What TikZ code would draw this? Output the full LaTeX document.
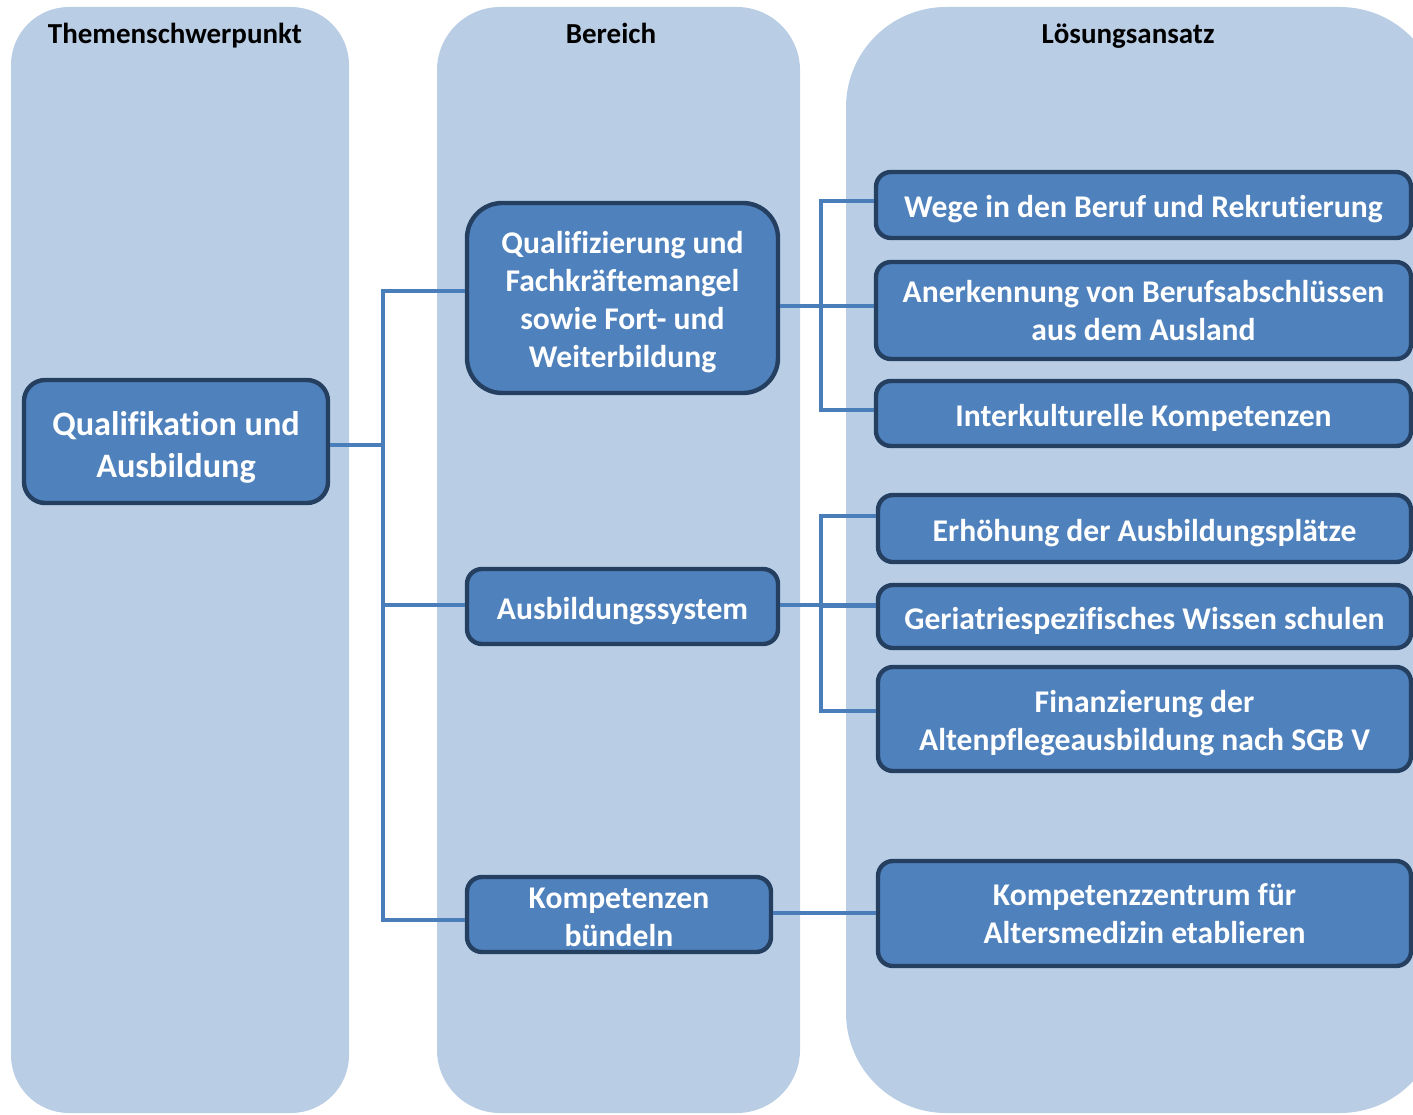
\documentclass[tikz,border=0pt]{standalone}
\usepackage{fontspec}
\setmainfont{Carlito}[Ligatures={NoCommon}]
\usetikzlibrary{calc}
\definecolor{lane}{HTML}{B9CDE5}
\definecolor{boxfill}{HTML}{4F81BD}
\definecolor{boxline}{HTML}{243F60}
\definecolor{wirec}{HTML}{4A7EBB}
% invisible strut that sets the height of a first text line
\newcommand\firstline[1]{\rule{0pt}{#1}}

\begin{document}
\begin{tikzpicture}[x=0.02cm,y=-0.02cm,
  card/.style 2 args={draw=boxline, fill=boxfill, line width=2.5pt, rounded corners=8.5pt,
    inner sep=0pt, text=white, align=center,
    minimum width={#1*0.02cm}, minimum height={#2*0.02cm},
    font=\bfseries\fontsize{18}{21.6}\selectfont,
    execute at begin node={\rule{0pt}{17.6pt}}},
  bigfont/.style={font=\bfseries\fontsize{19.5}{23.8}\selectfont},
  head/.style={font=\bfseries\fontsize{16.5}{19}\selectfont, text=black, inner sep=0pt, anchor=base},
  wire/.style={draw=wirec, line width=2.3pt}]

\useasboundingbox (0,0) rectangle (1413,1115);

% column backgrounds
\begin{scope}
  \clip (0,0) rectangle (1413,1115);
  \fill[lane, rounded corners=33pt] (11,7) rectangle (349,1113);
  \fill[lane, rounded corners=36pt] (437,7) rectangle (800,1113);
  \fill[lane, rounded corners=57pt] (846,7) rectangle (1440,1113);
\end{scope}

% column headings
\node[head] (h1) at (175,44) {Themenschwerpunkt};
\node[head] (h2) at (611,44) {Bereich};
\node[head] (h3) at (1128,44) {Lösungsansatz};

% topic
\node[card={304}{123}, bigfont, rounded corners=12pt] (qa) at (176,441.5)
  {\firstline{20.5pt}Qualifikation und\\Ausbildung};

% areas
\node[card={311}{190}, rounded corners=20pt] (q) at (622.5,298)
  {\firstline{17.5pt}Qualifizierung und\\Fachkräftemangel\\sowie Fort- und\\Weiterbildung};
\node[card={311}{75}] (a) at (622.5,606.5) {Ausbildungssystem};
\node[card={304}{75}] (k) at (619,914.5) {\firstline{14.5pt}Kompetenzen\\bündeln};

% approaches
\node[card={535}{66}]  (r1) at (1143.5,205)   {Wege in den Beruf und Rekrutierung};
\node[card={535}{97}]  (r2) at (1143.5,310.5) {Anerkennung von Berufsabschlüssen\\aus dem Ausland};
\node[card={535}{65}]  (r3) at (1143.5,413.5) {Interkulturelle Kompetenzen};
\node[card={533}{67}]  (r4) at (1144.5,528.5) {Erhöhung der Ausbildungsplätze};
\node[card={533}{63}]  (r5) at (1144.5,616.5) {Geriatriespezifisches Wissen schulen};
\node[card={533}{104}] (r6) at (1144.5,719)
  {\firstline{17.5pt}Finanzierung der\\Altenpflegeausbildung nach SGB V};
\node[card={533}{105}] (r7) at (1144.5,913.5) {Kompetenzzentrum für\\Altersmedizin etablieren};

% trunk positions
\coordinate (t1) at (383,0);
\coordinate (t2) at (821,0);

% connection points on the box sides
\coordinate (qa-o) at ($(qa.east)+(0,3.5)$);
\coordinate (q-i)  at ($(q.west)+(0,-7)$);
\coordinate (a-i)  at ($(a.west)+(0,-1.5)$);
\coordinate (k-i)  at ($(k.west)+(0,5.5)$);
\coordinate (q-o)  at ($(q.east)+(0,8)$);
\coordinate (a-o)  at ($(a.east)+(0,-1.5)$);
\coordinate (k-o)  at ($(k.east)+(0,-1.5)$);
\coordinate (r1-i) at ($(r1.west)+(0,-4)$);
\coordinate (r2-i) at ($(r2.west)+(0,-4.5)$);
\coordinate (r3-i) at ($(r3.west)+(0,-3.5)$);
\coordinate (r4-i) at ($(r4.west)+(0,-12.5)$);
\coordinate (r5-i) at ($(r5.west)+(0,-11)$);
\coordinate (r6-i) at ($(r6.west)+(0,-8)$);

% topic to areas
\draw[wire] (qa-o) -- (qa-o -| t1);
\draw[wire] (q-i) -- (q-i -| t1) -- (k-i -| t1) -- (k-i);
\draw[wire] (a-i) -- (a-i -| t1);

% areas to approaches
\draw[wire] (q-o) -- (q-o -| t2);
\draw[wire] (r1-i) -- (r1-i -| t2) -- (r3-i -| t2) -- (r3-i);
\draw[wire] (r2-i) -- (r2-i -| t2);

\draw[wire] (a-o) -- (a-o -| t2);
\draw[wire] (r4-i) -- (r4-i -| t2) -- (r6-i -| t2) -- (r6-i);
\draw[wire] (r5-i) -- (r5-i -| t2);

\draw[wire] (k-o) -- (k-o -| r7.west);
\end{tikzpicture}
\end{document}
